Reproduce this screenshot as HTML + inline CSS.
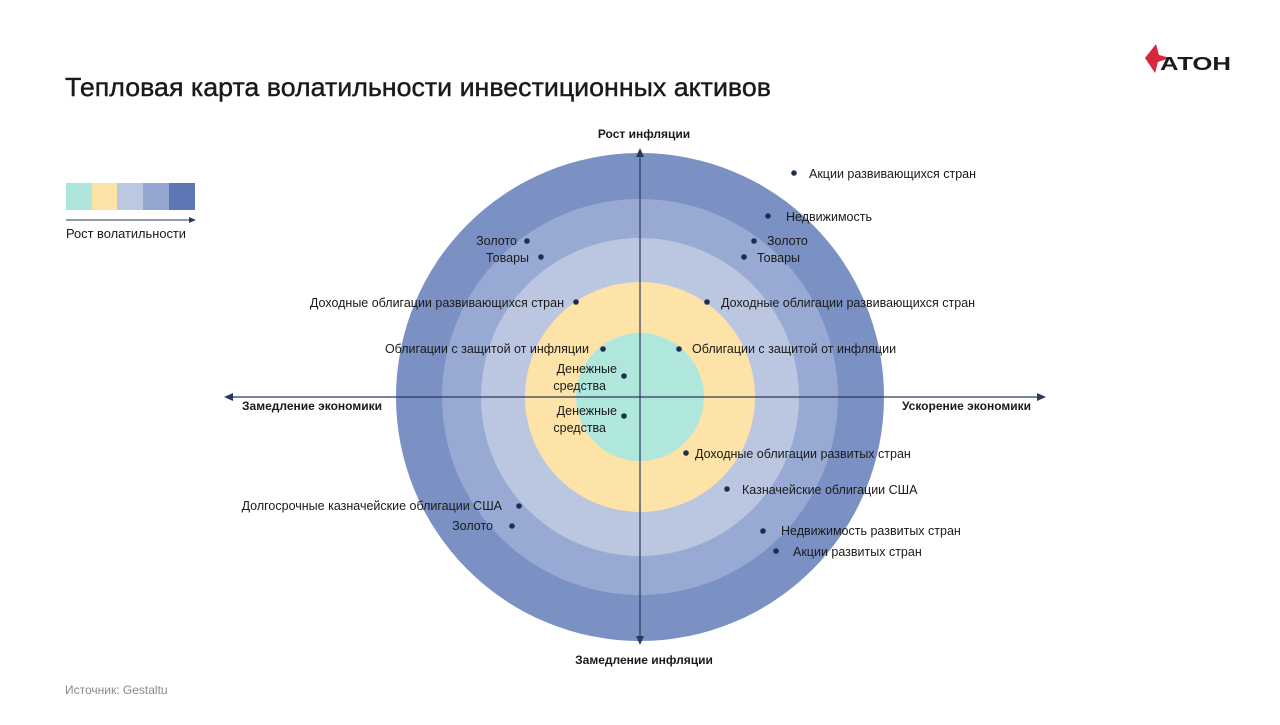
<!DOCTYPE html><html><head><meta charset="utf-8"><style>
body{margin:0;width:1280px;height:720px;background:#fff;overflow:hidden;font-family:"Liberation Sans",sans-serif}
</style></head><body>
<svg width="1280" height="720" xmlns="http://www.w3.org/2000/svg" font-family="Liberation Sans, sans-serif">
<text x="65" y="96" font-size="26" fill="#1a1a1a" textLength="706" lengthAdjust="spacingAndGlyphs" stroke="#1a1a1a" stroke-width="0.4">Тепловая карта волатильности инвестиционных активов</text>
<polygon points="1145,58 1156,44 1159,55 1170,58 1158,62 1155,73" fill="#d8283c"/>
<text x="1160" y="70" font-size="18" font-weight="bold" fill="#1a1a1a" textLength="71" lengthAdjust="spacingAndGlyphs">АТОН</text>
<rect x="66" y="183" width="26" height="27" fill="#afe6dc"/>
<rect x="92" y="183" width="25" height="27" fill="#fde2a6"/>
<rect x="117" y="183" width="26" height="27" fill="#bcc7e1"/>
<rect x="143" y="183" width="26" height="27" fill="#95a6d0"/>
<rect x="169" y="183" width="26" height="27" fill="#5d76b5"/>
<line x1="66" y1="220" x2="190" y2="220" stroke="#2b3a5c" stroke-width="1"/>
<polygon points="196,220 189,217 189,223" fill="#2b3a5c"/>
<text x="66" y="238" font-size="12.5" fill="#1a1a1a" textLength="120" lengthAdjust="spacingAndGlyphs">Рост волатильности</text>
<circle cx="640" cy="397" r="244" fill="#7b91c3"/>
<circle cx="640" cy="397" r="198" fill="#98aad4"/>
<circle cx="640" cy="397" r="159" fill="#bbc7e1"/>
<circle cx="640" cy="397" r="115" fill="#fde3a7"/>
<circle cx="640" cy="397" r="64" fill="#afe7dd"/>
<g stroke="#2b3a5c" stroke-width="1.2">
<line x1="640" y1="155" x2="640" y2="638"/>
<line x1="230" y1="397" x2="1040" y2="397"/>
</g>
<g fill="#2b3a5c">
<polygon points="640,148 636,157 644,157"/><polygon points="640,645 636,636 644,636"/>
<polygon points="224,397 233,393 233,401"/><polygon points="1046,397 1037,393 1037,401"/>
</g>
<g font-size="12" fill="#1a1a1a" font-weight="bold">
<text x="644" y="138" text-anchor="middle">Рост инфляции</text>
<text x="644" y="664" text-anchor="middle">Замедление инфляции</text>
<text x="242" y="410">Замедление экономики</text>
<text x="1031" y="410" text-anchor="end">Ускорение экономики</text>
</g>
<g font-size="12.5" fill="#1a1a1a">
<g fill="#1f2d52">
<circle cx="794" cy="173" r="2.8"/><circle cx="768" cy="216" r="2.8"/><circle cx="754" cy="241" r="2.8"/><circle cx="744" cy="257" r="2.8"/>
<circle cx="707" cy="302" r="2.8"/><circle cx="679" cy="349" r="2.8"/><circle cx="527" cy="241" r="2.8"/><circle cx="541" cy="257" r="2.8"/>
<circle cx="576" cy="302" r="2.8"/><circle cx="603" cy="349" r="2.8"/><circle cx="624" cy="376" r="2.8"/><circle cx="624" cy="416" r="2.8"/>
<circle cx="686" cy="453" r="2.8"/><circle cx="727" cy="489" r="2.8"/><circle cx="763" cy="531" r="2.8"/><circle cx="776" cy="551" r="2.8"/>
<circle cx="519" cy="506" r="2.8"/><circle cx="512" cy="526" r="2.8"/>
</g>
<text x="809" y="178">Акции развивающихся стран</text>
<text x="786" y="221">Недвижимость</text>
<text x="767" y="245">Золото</text>
<text x="757" y="262">Товары</text>
<text x="721" y="307">Доходные облигации развивающихся стран</text>
<text x="692" y="353">Облигации с защитой от инфляции</text>
<text x="517" y="245" text-anchor="end">Золото</text>
<text x="529" y="262" text-anchor="end">Товары</text>
<text x="564" y="307" text-anchor="end">Доходные облигации развивающихся стран</text>
<text x="589" y="353" text-anchor="end">Облигации с защитой от инфляции</text>
<text x="617" y="373" text-anchor="end">Денежные</text>
<text x="606" y="390" text-anchor="end">средства</text>
<text x="617" y="415" text-anchor="end">Денежные</text>
<text x="606" y="432" text-anchor="end">средства</text>
<text x="695" y="458">Доходные облигации развитых стран</text>
<text x="742" y="494">Казначейские облигации США</text>
<text x="781" y="535">Недвижимость развитых стран</text>
<text x="793" y="556">Акции развитых стран</text>
<text x="502" y="510" text-anchor="end">Долгосрочные казначейские облигации США</text>
<text x="493" y="530" text-anchor="end">Золото</text>
</g>
<text x="65" y="694" font-size="12" fill="#888">Источник: Gestaltu</text>
</svg>
</body></html>
